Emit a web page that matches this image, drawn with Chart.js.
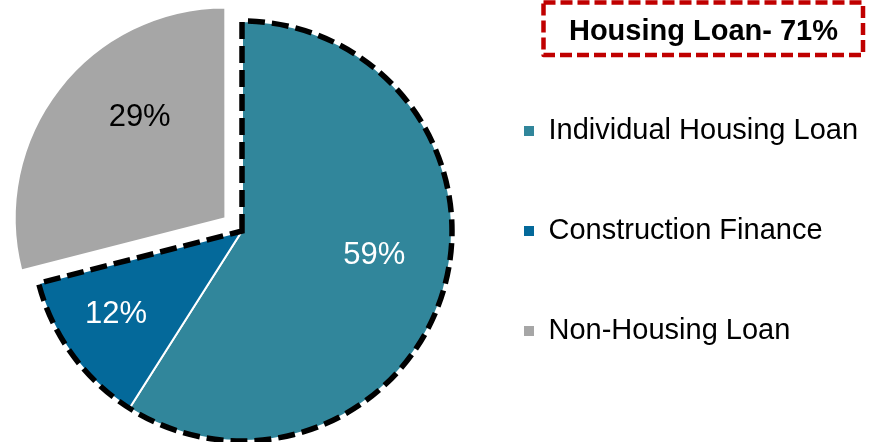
<!DOCTYPE html>
<html>
<head>
<meta charset="utf-8">
<script src="https://cdn.jsdelivr.net/npm/chart.js@4"></script>
<style>
  html, body { margin: 0; padding: 0; background: #fff; }
</style>
</head>
<body>
<canvas id="loanChart" width="877" height="442"></canvas>
<script>
var categories = ['Individual Housing Loan', 'Construction Finance', 'Non-Housing Loan'];
var shares = [59, 12, 29];
var sliceColors = ['#31869B', '#04699A', '#A6A6A6'];
var labelColors = ['#fff', '#fff', '#000'];
var housingTotal = 71;

var fontFamily = 'Arial, "Liberation Sans", sans-serif';
Chart.defaults.font.family = fontFamily;

// legend sits right of the pie, work out right padding so it starts where we want
var legendFont = 29;
var legendPad = 71;
var legendLeft = 453;
var measure = document.createElement('canvas').getContext('2d');
measure.font = legendFont + 'px ' + fontFamily;
var widest = Math.max.apply(null, categories.map(function (c) { return measure.measureText(c).width; }));
// legend came out ~10px wider than this estimate, so take that off too
var padRight = 877 - legendLeft - (legendPad + 10 + legendFont / 2 + widest) - 10;

// small nudges for the % labels (degrees off the bisector, fraction of radius)
var labelTweak = [
  { turn: -5.8, dist: 0.64 },
  { turn: 2.4, dist: 0.72 },
  { turn: 11.8, dist: 0.63 }
];

var housingOutline = {
  id: 'housingOutline',
  afterDatasetsDraw: function (chart) {
    var arcs = chart.getDatasetMeta(0).data;
    var first = arcs[0], last = arcs[1];
    var ctx = chart.ctx;
    ctx.save();
    ctx.beginPath();
    ctx.moveTo(first.x, first.y);
    ctx.arc(first.x, first.y, first.outerRadius, first.startAngle, last.endAngle);
    ctx.closePath();
    ctx.lineWidth = 5.5;
    ctx.strokeStyle = '#000';
    ctx.setLineDash([17, 7]);
    ctx.lineJoin = 'miter';
    ctx.stroke();
    ctx.restore();
  }
};

var sliceLabels = {
  id: 'sliceLabels',
  afterDatasetsDraw: function (chart) {
    var ctx = chart.ctx;
    var arcs = chart.getDatasetMeta(0).data;
    ctx.save();
    ctx.font = '31px ' + fontFamily;
    ctx.textAlign = 'center';
    ctx.textBaseline = 'middle';
    arcs.forEach(function (arc, i) {
      var mid = (arc.startAngle + arc.endAngle) / 2;
      var shift = (arc.options.offset || 0) / 4;
      var cx = arc.x + Math.cos(mid) * shift;
      var cy = arc.y + Math.sin(mid) * shift;
      var a = mid + labelTweak[i].turn * Math.PI / 180;
      var d = arc.outerRadius * labelTweak[i].dist;
      ctx.fillStyle = labelColors[i];
      ctx.fillText(shares[i] + '%', cx + Math.cos(a) * d, cy + Math.sin(a) * d);
    });
    ctx.restore();
  }
};

var titleBox = {
  id: 'titleBox',
  afterDraw: function (chart) {
    var ctx = chart.ctx;
    ctx.save();
    ctx.strokeStyle = '#C00000';
    ctx.lineWidth = 4.5;
    ctx.lineJoin = 'round';
    ctx.setLineDash([12, 5]);
    ctx.strokeRect(543.5, 2.5, 319.5, 52.5);
    ctx.setLineDash([]);
    ctx.font = 'bold 29px ' + fontFamily;
    ctx.fillStyle = '#000';
    ctx.textAlign = 'center';
    ctx.textBaseline = 'alphabetic';
    ctx.fillText('Housing Loan- ' + housingTotal + '%', 703.5, 39.5);
    ctx.restore();
  }
};

new Chart(document.getElementById('loanChart'), {
  type: 'pie',
  data: {
    labels: categories,
    datasets: [{
      data: shares,
      backgroundColor: sliceColors,
      borderColor: '#fff',
      borderWidth: 2,
      offset: [0, 0, 84]
    }]
  },
  options: {
    responsive: false,
    animation: false,
    events: [],
    radius: 210,
    layout: { padding: { left: 31, right: padRight, top: 20, bottom: 0 } },
    plugins: {
      legend: {
        position: 'right',
        labels: {
          boxWidth: 10,
          boxHeight: 10,
          padding: legendPad,
          color: '#000',
          font: { size: legendFont },
          generateLabels: function () {
            return categories.map(function (c, i) {
              return { text: c, fillStyle: sliceColors[i], strokeStyle: sliceColors[i], lineWidth: 0, hidden: false, index: i };
            });
          }
        }
      },
      tooltip: { enabled: false }
    }
  },
  plugins: [housingOutline, sliceLabels, titleBox]
});
</script>
</body>
</html>
